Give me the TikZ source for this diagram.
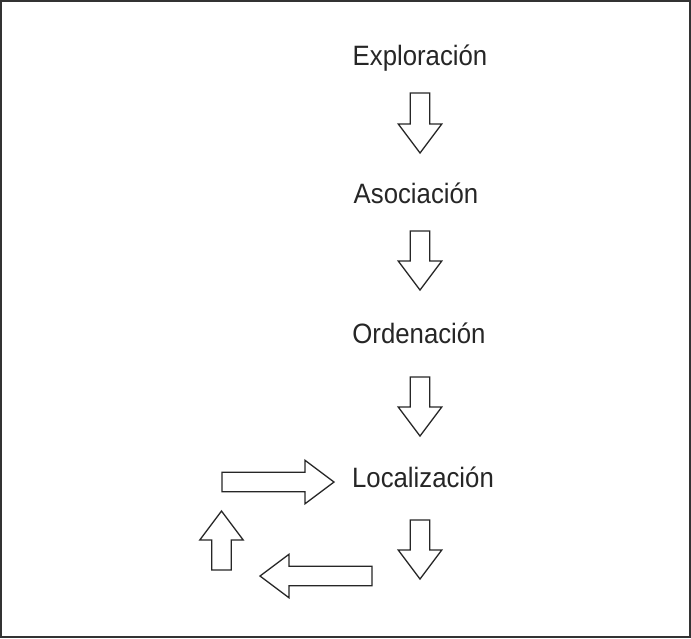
\documentclass[tikz,border=0pt]{standalone}
\usepackage{fontspec}
\setmainfont{Liberation Sans}[FakeStretch=0.92]
\begin{document}
\begin{tikzpicture}[x=1pt,y=1pt,
  label/.style={anchor=base, inner sep=0pt, font=\fontsize{28}{34}\selectfont, text=black!85},
  arrowline/.style={draw=black!85, line width=1.3pt, fill=white, line join=miter},
  frame/.style={draw=black!80, line width=2pt},
  pics/blockarrow/.style={code={
    \draw[arrowline] (0,-9.75) -- ({#1-29},-9.75) -- ({#1-29},-21.75) -- (#1,0)
      -- ({#1-29},21.75) -- ({#1-29},9.75) -- (0,9.75) -- cycle;}}
]
\useasboundingbox (0,0) rectangle (691,-638);
\draw[frame] (1,-1) rectangle (689.5,-636.5);

\node[label] (explore) at (420,-65) {Exploración};
\node[label] (assoc)   at (416,-203) {Asociación};
\node[label] (order)   at (419,-343) {Ordenación};
\node[label] (local)   at (423,-487) {Localización};

% downward arrows between the stages
\pic[rotate=-90] at (420,-93)  {blockarrow=60};
\pic[rotate=-90] at (420,-231) {blockarrow=59};
\pic[rotate=-90] at (420,-377) {blockarrow=59};
\pic[rotate=-90] at (420,-520) {blockarrow=59};

% feedback loop
\pic[rotate=180] at (372,-576) {blockarrow=112};
\pic[rotate=90]  at (221.5,-570) {blockarrow=59};
\pic             at (222,-482) {blockarrow=112};
\end{tikzpicture}
\end{document}
